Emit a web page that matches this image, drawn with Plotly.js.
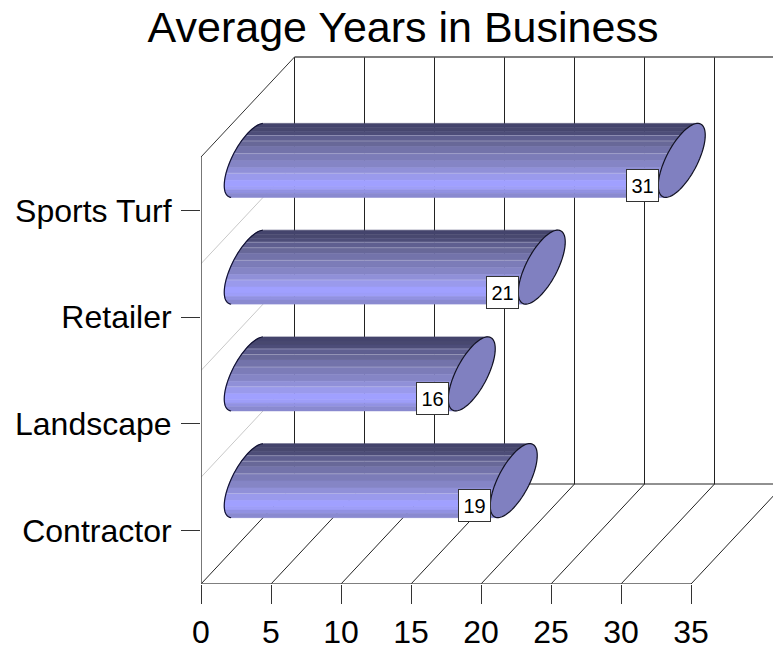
<!DOCTYPE html>
<html>
<head>
<meta charset="utf-8">
<script src="https://cdn.plot.ly/plotly-3.0.1.min.js"></script>
<style>html,body{margin:0;padding:0;background:#fff;overflow:hidden}</style>
</head>
<body>
<div id="chart" style="width:773px;height:649px"></div>
<script>
// ---- data ----
var categories = ['Contractor', 'Landscape', 'Retailer', 'Sports Turf'];
var years = [19, 16, 21, 31];
var xTicks = [0, 5, 10, 15, 20, 25, 30, 35];
var chartTitle = 'Average Years in Business';

// ---- styling ----
var bandColors = ['#44446c','#48486f','#4d4d78','#5f5f90','#686898','#7373aa','#7c7cb8','#8585c5','#9090d8','#9a9aec','#a0a0ff','#9e9ef8','#9292e2','#8a8ad0'];
var bandShares = [4, 4, 4, 5.5, 5.5, 7, 7, 7, 5.5, 7, 6, 3.5, 3.5, 4];
var glintAfter = [2, 3, 5, 8];
var capColor = '#8080c0';

// ---- projection: scale of the axes in pixels per data unit ----
var PX_X = 14, PX_Y = 106.75;
var DEPTH_X = 93.5 / PX_X, DEPTH_Y = 100 / PX_Y;
var CAP_A = 23.5 / PX_X, CAP_B = 37 / PX_Y, CAP_PHI = Math.acos(0.68);
var X_MAX = 35, Y_LOW = -0.5, Y_HIGH = 3.5;

function capEdge(dy) { // left side of the slanted end cap at height dy
  var r = Math.max(-1, Math.min(1, dy / CAP_B));
  var s = Math.acos(r);
  return Math.min(CAP_A * Math.cos(CAP_PHI + s), CAP_A * Math.cos(CAP_PHI - s));
}
function line(xs, ys, color, width) {
  return {type:'scatter', mode:'lines', x:xs, y:ys, line:{color:color, width:width, simplify:false},
          hoverinfo:'skip', showlegend:false, cliponaxis:false};
}

var traces = [];
var frame = '#555555', grid = '#222222';

// back wall verticals and floor diagonals
for (var v = 0; v <= X_MAX; v += 5) {
  traces.push(line([v + DEPTH_X, v + DEPTH_X], [Y_LOW + DEPTH_Y, Y_HIGH + DEPTH_Y], grid, 1));
  traces.push(line([v, v + DEPTH_X], [Y_LOW, Y_LOW + DEPTH_Y], grid, 1));
}
// floor back edge, wall top
traces.push(line([DEPTH_X, X_MAX + DEPTH_X], [Y_LOW + DEPTH_Y, Y_LOW + DEPTH_Y], grid, 1));
traces.push(line([DEPTH_X, X_MAX + DEPTH_X], [Y_HIGH + DEPTH_Y, Y_HIGH + DEPTH_Y], frame, 1.4));
// left wall separators
for (var c = 0; c < categories.length - 1; c++) {
  traces.push(line([0, DEPTH_X], [c + 0.5, c + 0.5 + DEPTH_Y], '#c8c8c8', 1));
}
// left wall edge, top slant, front floor edge
traces.push(line([0, 0], [Y_LOW, Y_HIGH], frame, 1.6));
traces.push(line([0, DEPTH_X], [Y_HIGH, Y_HIGH + DEPTH_Y], '#333333', 1));
traces.push(line([0, X_MAX], [Y_LOW, Y_LOW], frame, 1.4));

// cylinder body: horizontal colour bands, one trace per colour
var total = bandShares.reduce(function (a, b) { return a + b; }, 0);
var acc = 0;
var glintX = [], glintY = [];
bandColors.forEach(function (col, bi) {
  var f0 = acc / total, f1 = (acc + bandShares[bi]) / total;
  acc += bandShares[bi];
  var xs = [], ys = [];
  years.forEach(function (val, i) {
    var cx = DEPTH_X / 2, cy = i + DEPTH_Y / 2;
    var top = CAP_B * (1 - 2 * f0), bot = CAP_B * (1 - 2 * f1);
    var n = 6, k, dy;
    for (k = 0; k <= n; k++) { dy = top + (bot - top) * k / n; xs.push(cx + capEdge(dy)); ys.push(cy + dy); }
    for (k = n; k >= 0; k--) { dy = top + (bot - top) * k / n; xs.push(val + cx + capEdge(dy)); ys.push(cy + dy); }
    xs.push(xs[xs.length - 2 * n - 2]); ys.push(ys[ys.length - 2 * n - 2]);
    xs.push(null); ys.push(null);
    if (glintAfter.indexOf(bi) >= 0) {
      glintX.push(cx + capEdge(bot), val + cx + capEdge(bot), null);
      glintY.push(cy + bot, cy + bot, null);
    }
  });
  var t = line(xs, ys, col, 0.6);
  t.fill = 'toself'; t.fillcolor = col;
  traces.push(t);
});
traces.push(line(glintX, glintY, 'rgba(205,205,225,0.4)', 1));

// left outlines and right end caps
years.forEach(function (val, i) {
  var cx = DEPTH_X / 2, cy = i + DEPTH_Y / 2;
  var lx = [], ly = [], rx = [], ry = [];
  for (var d = 0; d <= 72; d++) {
    var t = d / 72 * 2 * Math.PI;
    var px = CAP_A * Math.cos(t), py = CAP_B * Math.cos(t - CAP_PHI);
    rx.push(val + cx + px); ry.push(cy + py);
    if (t >= CAP_PHI - 0.02 && t <= CAP_PHI + Math.PI + 0.02) { lx.push(cx + px); ly.push(cy + py); }
  }
  traces.push(line(lx, ly, '#111133', 1.2));
  var cap = line(rx, ry, '#111122', 1.2);
  cap.fill = 'toself'; cap.fillcolor = capColor;
  traces.push(cap);
});

// value labels
var annotations = years.map(function (val, i) {
  return {x: val + 7.5 / PX_X, y: i + 25 / PX_Y, xref:'x', yref:'y', text:String(val), showarrow:false,
          width:31, height:31, bgcolor:'#ffffff', bordercolor:'#333333', borderwidth:1, borderpad:0,
          font:{family:'Liberation Sans', size:20, color:'#000'}, align:'center', valign:'middle'};
});

var layout = {
  width:773, height:649, paper_bgcolor:'#fff', plot_bgcolor:'#fff', showlegend:false,
  margin:{l:201, r:0, t:50, b:65, pad:0}, hovermode:false,
  font:{family:'Liberation Sans', color:'#000'},
  title:{text:chartTitle, font:{family:'Liberation Sans', size:43, color:'#000'}, x:403/773, xanchor:'center', y:1-27/649, yanchor:'middle'},
  xaxis:{range:[0, (773-201)/PX_X], tickvals:xTicks, ticktext:xTicks.map(String), showgrid:false, zeroline:false, showline:false,
         ticks:'outside', ticklen:19, tickwidth:1, tickcolor:'#333', tickfont:{size:32, family:'Liberation Sans'}, ticklabelstandoff:1},
  yaxis:{range:[Y_LOW, Y_LOW + (584-50)/PX_Y], tickvals:categories.map(function(_,i){return i;}), ticktext:categories, showgrid:false, zeroline:false, showline:false,
         ticks:'outside', ticklen:19, tickwidth:1, tickcolor:'#333', tickfont:{size:32, family:'Liberation Sans'}, ticklabelstandoff:3},
  annotations:annotations
};
Plotly.newPlot('chart', traces, layout, {displayModeBar:false, responsive:false});
</script>
</body>
</html>
